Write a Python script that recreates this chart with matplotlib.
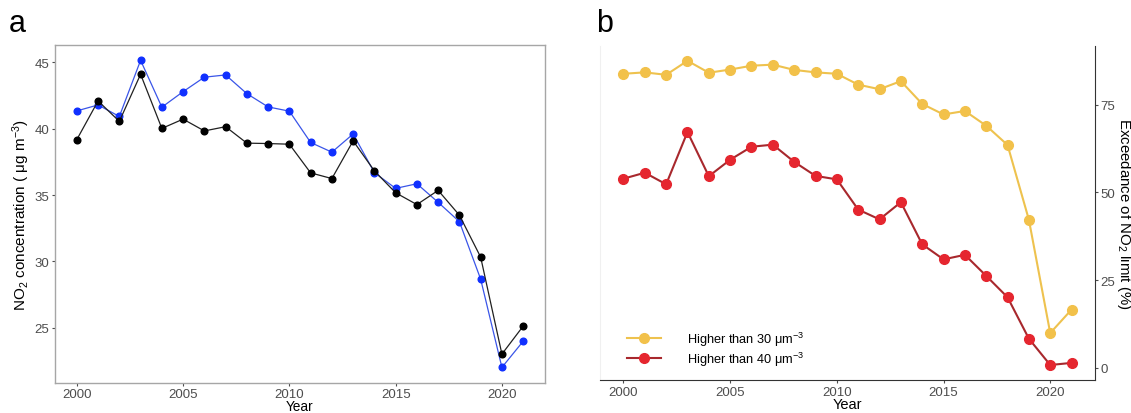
import numpy as np
import matplotlib
matplotlib.use('Agg')
import matplotlib.pyplot as plt

plt.rcParams['font.family'] = ['Liberation Sans', 'DejaVu Sans']
plt.rcParams['mathtext.default'] = 'regular'

years = list(range(2000, 2022))

# annual mean NO2, two station groups
no2_blue = [41.34, 41.79, 40.92, 45.15, 41.62, 42.79, 43.88, 44.05, 42.64, 41.64, 41.32,
            38.96, 38.23, 39.60, 36.69, 35.50, 35.85, 34.45, 32.99, 28.66, 22.01, 23.98]
no2_black = [39.18, 42.09, 40.55, 44.10, 40.02, 40.72, 39.83, 40.15, 38.91, 38.88, 38.83,
             36.67, 36.24, 39.08, 36.82, 35.17, 34.28, 35.35, 33.48, 30.32, 23.01, 25.12]

# share of sites above limit (%)
exc_30 = [83.8, 84.2, 83.5, 87.5, 84.1, 85.0, 86.1, 86.4, 84.9, 84.2, 83.8,
          80.7, 79.4, 81.7, 75.2, 72.2, 73.2, 69.0, 63.5, 42.2, 9.9, 16.6]
exc_40 = [53.9, 55.6, 52.3, 67.2, 54.6, 59.3, 63.0, 63.6, 58.7, 54.7, 53.7,
          45.1, 42.3, 47.2, 35.2, 30.9, 32.2, 26.2, 20.1, 8.3, 0.8, 1.4]

xticks = [2000, 2005, 2010, 2015, 2020]
tick_gray = '#4d4d4d'

fig = plt.figure(figsize=(11.31, 4.14), dpi=100)

# ---- panel a ----
ax1 = fig.add_axes([0.0482, 0.073, 0.4341, 0.816])
ax1.plot(years, no2_blue, color='#3a55e8', lw=0.9, marker='o', ms=4.8,
         mfc='#1030ff', mec='#1030ff', zorder=3)
ax1.plot(years, no2_black, color='#202020', lw=0.9, marker='o', ms=4.8,
         mfc='black', mec='black', zorder=3)
ax1.set_xlim(1998.95, 2022.05)
ax1.set_ylim(20.85, 46.31)
ax1.set_xticks(xticks)
ax1.set_yticks([25, 30, 35, 40, 45])
for s in ax1.spines.values():
    s.set_color('#a6a6a6')
    s.set_linewidth(1.0)
ax1.tick_params(colors=tick_gray, labelsize=9.5, length=2.5, width=0.8, pad=1.5)
ax1.set_ylabel(r'NO$_2$ concentration ( $\mu$g m$^{-3}$)', fontsize=11, va='center')
ax1.yaxis.set_label_coords(-0.068, 0.5)
ax1.set_xlabel('Year', fontsize=9.8, va='top')
ax1.xaxis.set_label_coords(0.5, -0.048)
fig.text(0.008, 0.923, 'a', fontsize=22, va='baseline')

# ---- panel b ----
ax2 = fig.add_axes([0.5305, 0.0795, 0.4377, 0.8077])
ax2.plot(years, exc_30, color='#eec24e', lw=1.5, marker='o', ms=7,
         mfc='#f2c14a', mec='#f2c14a', label=r'Higher than 30 $\mu$m$^{-3}$', zorder=3)
ax2.plot(years, exc_40, color='#a8282d', lw=1.5, marker='o', ms=7,
         mfc='#e5262f', mec='#e5262f', label=r'Higher than 40 $\mu$m$^{-3}$', zorder=3)
ax2.set_xlim(1998.9, 2022.1)
ax2.set_ylim(-3.5, 91.8)
ax2.set_xticks(xticks)
ax2.set_yticks([0, 25, 50, 75])
ax2.yaxis.tick_right()
ax2.yaxis.set_label_position('right')
ax2.spines['top'].set_visible(False)
ax2.spines['left'].set_color('#f0f0f0')
ax2.spines['bottom'].set_color('#333333')
ax2.spines['right'].set_color('#333333')
ax2.tick_params(colors=tick_gray, labelsize=9.5, length=2.5, width=0.8, pad=1.5)
ax2.set_ylabel(r'Exceedance of NO$_2$ limit (%)', fontsize=10.8, rotation=-90,
               va='center', ha='center')
ax2.yaxis.set_label_coords(1.0586, 0.5)
ax2.set_xlabel('Year', fontsize=10.5, va='top')
ax2.xaxis.set_label_coords(0.5, -0.052)
ax2.legend(loc='lower left', bbox_to_anchor=(0.044, 0.022), borderaxespad=0,
           frameon=False, fontsize=9.2, handlelength=2.7, handletextpad=2.0,
           labelspacing=0.15)
fig.text(0.527, 0.923, 'b', fontsize=22, va='baseline')

fig.savefig('out.png', dpi=100)
